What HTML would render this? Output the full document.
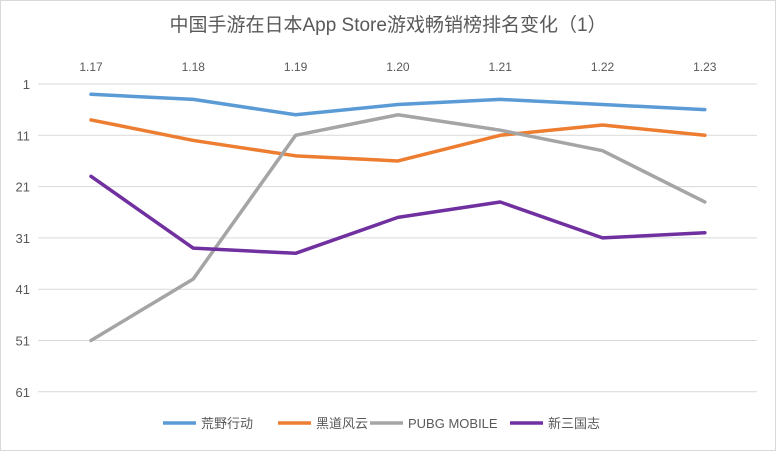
<!DOCTYPE html>
<html><head><meta charset="utf-8"><style>
body{margin:0;background:#fff;font-family:"Liberation Sans","Noto Sans CJK SC",sans-serif;}
#c{position:absolute;left:0;top:0;width:776px;height:451px;}
</style></head><body>
<svg id="c" width="776" height="451">
<rect x="0.5" y="0.5" width="775" height="450" fill="#fff" stroke="#d9d9d9"/>
<text x="388" y="31" text-anchor="middle" font-size="19" fill="#595959" font-family="Liberation Sans,Noto Sans CJK SC,sans-serif">中国手游在日本App Store游戏畅销榜排名变化（1）</text>
<g id="grid"></g><g id="series"></g><g id="legend"></g>
</svg>
<script>
const categories=["1.17","1.18","1.19","1.20","1.21","1.22","1.23"];
const yTicks=[1,11,21,31,41,51,61];
const seriesNames=["荒野行动","黑道风云","PUBG MOBILE","新三国志"];
const seriesColors=["#5b9bd5","#ed7d31","#a5a5a5","#7030a0"];
const s1=[3,4,7,5,4,5,6];
const s2=[8,12,15,16,11,9,11];
const s3=[51,39,11,7,10,14,24];
const s4=[19,33,34,27,24,31,30];
const allSeries=[s1,s2,s3,s4];
const NS="http://www.w3.org/2000/svg";
const x0=91,dx=102.3,y0=84,dy=5.13,gl=38,gr=757;
const xs=i=>x0+i*dx, ys=v=>y0+(v-1)*dy;
function mk(tag,attrs,parent){const e=document.createElementNS(NS,tag);for(const k in attrs)e.setAttribute(k,attrs[k]);parent.appendChild(e);return e;}
const grid=document.getElementById('grid');
yTicks.forEach(t=>{
 const l=mk('line',{x1:gl,x2:gr,y1:ys(t),y2:ys(t),stroke:'#d9d9d9','stroke-width':1},grid);
 
 
 const tx=mk('text',{x:30,y:ys(t)+5,'text-anchor':'end','font-size':13,fill:'#595959'},grid);
 tx.textContent=t;
 
 
});
categories.forEach((c,i)=>{
 const tx=mk('text',{x:xs(i),y:71,'text-anchor':'middle','font-size':12,fill:'#595959'},grid);
 tx.textContent=c;
 
 
});
const sg=document.getElementById('series');
allSeries.forEach((s,k)=>{
 const p=mk('polyline',{points:s.map((v,i)=>xs(i)+','+ys(v)).join(' '),fill:'none',stroke:seriesColors[k],'stroke-width':3.5,'stroke-linejoin':'round','stroke-linecap':'round'},sg);
 
 
});
const lg=document.getElementById('legend');
const lx=[163,278,370,510];
seriesNames.forEach((n,k)=>{
 const g=mk('g',{},lg);
 
 
 mk('line',{x1:lx[k],x2:lx[k]+33,y1:423,y2:423,stroke:seriesColors[k],'stroke-width':3.5},g);
 const t=mk('text',{x:lx[k]+38,y:428,'font-size':13,fill:'#595959'},g);
 t.textContent=n;
});
</script>
</body></html>
